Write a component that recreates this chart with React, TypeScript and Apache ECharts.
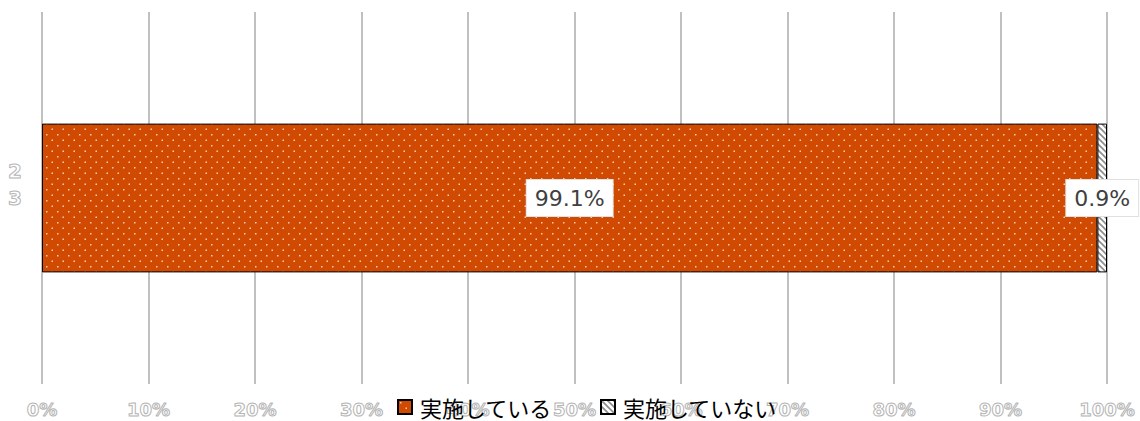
import React, { useEffect, useRef } from "react";
import * as echarts from "echarts";

const categories = ["2\n3"];
const seriesNames = ["実施している", "実施していない"];
const doneValues = [99.1];
const notDoneValues = [0.9];
const xTicks = { min: 0, max: 100, interval: 10 };

function dotPattern(): HTMLCanvasElement {
  const c = document.createElement("canvas");
  c.width = 11;
  c.height = 11;
  const ctx = c.getContext("2d")!;
  ctx.fillStyle = "#D04A02";
  ctx.fillRect(0, 0, 11, 11);
  ctx.fillStyle = "#F6C9AE";
  ctx.fillRect(2, 2, 1.5, 1.5);
  ctx.fillRect(7.5, 7.5, 1.5, 1.5);
  return c;
}

function hatchPattern(): HTMLCanvasElement {
  const c = document.createElement("canvas");
  c.width = 6;
  c.height = 6;
  const ctx = c.getContext("2d")!;
  ctx.fillStyle = "#ffffff";
  ctx.fillRect(0, 0, 6, 6);
  ctx.strokeStyle = "#8c8c8c";
  ctx.lineWidth = 1.6;
  ctx.beginPath();
  ctx.moveTo(-1, -1);
  ctx.lineTo(7, 7);
  ctx.moveTo(-4, 2);
  ctx.lineTo(4, 10);
  ctx.moveTo(2, -4);
  ctx.lineTo(10, 4);
  ctx.stroke();
  return c;
}

export default function App() {
  const ref = useRef<HTMLDivElement>(null);
  useEffect(() => {
    document.body.style.margin = "0";
    const chart = echarts.init(ref.current!, null, { renderer: "svg" });
    const labelStyle = {
      show: true,
      position: "inside" as const,
      formatter: (p: any) => `${p.value}%`,
      backgroundColor: "#ffffff",
      borderColor: "#e0e0e0",
      borderWidth: 1,
      padding: [7, 8, 7, 8],
      color: "#404040",
      fontSize: 22,
      fontFamily: "DejaVu Sans",
    };
    chart.setOption({
      animation: false,
      grid: { left: 42, right: 33, top: 12, bottom: 37, containLabel: false },
      legend: {
        data: seriesNames,
        left: 397,
        top: 396,
        padding: 0,
        itemWidth: 14,
        itemHeight: 14,
        itemGap: 48,
        icon: "rect",
        z: 10,
        textStyle: { fontSize: 22, color: "#000", fontFamily: "Noto Sans CJK JP", padding: [0, 0, 0, 3] },
      },
      xAxis: {
        type: "value",
        min: xTicks.min,
        max: xTicks.max,
        interval: xTicks.interval,
        axisLine: { show: false },
        axisTick: { show: false },
        splitLine: { show: true, lineStyle: { color: "#c0c0c0", width: 2 } },
        axisLabel: {
          formatter: "{value}%",
          margin: 16,
          fontSize: 18,
          fontWeight: "bold",
          fontFamily: "DejaVu Sans",
          color: "none",
          textBorderColor: "#b4b4b4",
          textBorderWidth: 1,
        },
      },
      yAxis: {
        type: "category",
        data: categories,
        axisLine: { show: false },
        axisTick: { show: false },
        axisLabel: {
          margin: 20,
          fontSize: 20,
          fontWeight: "bold",
          lineHeight: 27,
          formatter: (v: string) => v + "\n ",
          fontFamily: "DejaVu Sans",
          color: "none",
          textBorderColor: "#b4b4b4",
          textBorderWidth: 1,
        },
      },
      series: [
        {
          name: seriesNames[0],
          type: "bar",
          stack: "total",
          barWidth: "40%",
          data: doneValues,
          itemStyle: {
            color: { image: dotPattern(), repeat: "repeat" },
            borderColor: "#000",
            borderWidth: 1,
          },
          label: labelStyle,
        },
        {
          name: seriesNames[1],
          type: "bar",
          stack: "total",
          barWidth: "40%",
          data: notDoneValues,
          itemStyle: {
            color: { image: hatchPattern(), repeat: "repeat" },
            borderColor: "#000",
            borderWidth: 1,
          },
          label: labelStyle,
        },
      ],
    });
    return () => chart.dispose();
  }, []);
  return <div ref={ref} style={{ width: 1140, height: 421 }} />;
}
